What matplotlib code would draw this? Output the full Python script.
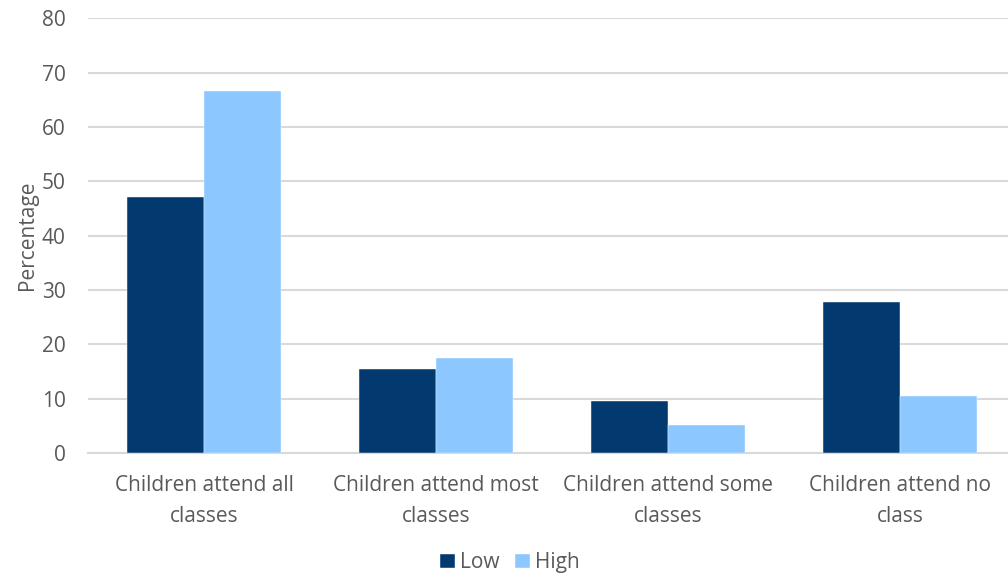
import matplotlib
matplotlib.use("Agg")
import matplotlib.pyplot as plt
import numpy as np

categories = ["Children attend all\nclasses", "Children attend most\nclasses",
              "Children attend some\nclasses", "Children attend no\nclass"]
low = [47.1, 15.4, 9.5, 27.8]
high = [66.6, 17.4, 5.1, 10.4]
yticks = [0, 10, 20, 30, 40, 50, 60, 70, 80]

plt.rcParams['font.family'] = ['Open Sans', 'DejaVu Sans']
text_color = "#595959"
fs = 15

fig = plt.figure(figsize=(10.08, 5.78), dpi=100)
ax = fig.add_axes([88/1008, 125/578, (1008-88)/1008, 0.7520])

x = np.arange(len(categories))
w = 0.333
ax.bar(x - w/2, low, w, color="#023A6F", label="Low", zorder=3, edgecolor="white", linewidth=0.3)
ax.bar(x + w/2, high, w, color="#8DC7FF", label="High", zorder=3, edgecolor="white", linewidth=0.3)

ax.set_xlim(-0.5, 3.466)
ax.set_ylim(0, 80)
ax.set_yticks(yticks)
ax.yaxis.grid(True, color="#D9D9D9", linewidth=1.5, zorder=0)
ax.set_axisbelow(True)
for s in ["top", "right", "left"]:
    ax.spines[s].set_visible(False)
ax.spines["bottom"].set_color("#D9D9D9")
ax.spines["bottom"].set_linewidth(1.5)
ax.tick_params(axis="both", length=0, colors=text_color, labelsize=fs)
ax.tick_params(axis="y", pad=16)
ax.tick_params(axis="x", pad=16)
ax.set_xticks(x)
ax.set_xticklabels(categories, linespacing=1.62)
ax.set_ylabel("Percentage", color=text_color, fontsize=fs, labelpad=3)

fig.legend(loc="lower center", bbox_to_anchor=(0.506, -0.024), ncol=2, frameon=False,
           fontsize=fs, handlelength=0.7, handleheight=0.7, handletextpad=0.25,
           columnspacing=0.75, labelcolor=text_color)

fig.savefig("out.png", dpi=100)
